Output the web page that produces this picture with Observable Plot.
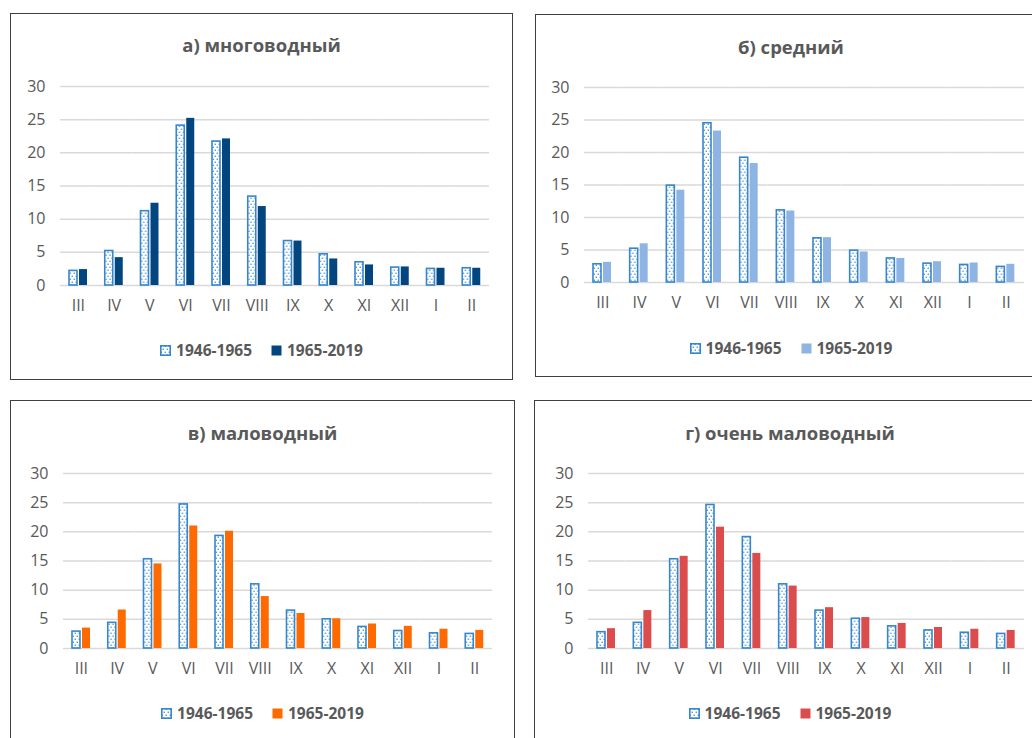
<!DOCTYPE html>
<html>
<head>
<meta charset="utf-8">
<script src="https://cdn.jsdelivr.net/npm/d3@7"></script>
<script src="https://cdn.jsdelivr.net/npm/@observablehq/plot@0.6"></script>
<style>
  html, body { margin: 0; padding: 0; background: #fff; }
  body { width: 1032px; height: 738px; overflow: hidden; position: relative; font-family: "Open Sans", sans-serif; }
  .panel { position: absolute; box-sizing: border-box; border: 1.5px solid #3f3f3f; background: #fff; overflow: visible; }
  .ptitle { position: absolute; left: 0; right: 0; text-align: center; font-weight: 700; font-size: 18.5px; line-height: 24px; color: #595959; }
  .plotwrap { position: absolute; }
  .legend { position: absolute; left: 0; right: 0; display: flex; justify-content: center; align-items: center; height: 20px; font-weight: 700; font-size: 15.5px; color: #595959; }
  .legend .item { display: flex; align-items: center; }
  .legend .item + .item { margin-left: 19px; }
  .legend svg { margin-right: 5px; display: block; }
</style>
</head>
<body>
<script>
// ---------- DATA ----------
const months = ["III", "IV", "V", "VI", "VII", "VIII", "IX", "X", "XI", "XII", "I", "II"];
const seriesNames = ["1946-1965", "1965-2019"];
const yTicks = [0, 5, 10, 15, 20, 25, 30];

const titles = ["а) многоводный", "б) средний", "в) маловодный", "г) очень маловодный"];

const highEarly = [2.2, 5.2, 11.2, 24.1, 21.7, 13.4, 6.7, 4.7, 3.5, 2.7, 2.5, 2.6];
const highLate  = [2.4, 4.2, 12.4, 25.2, 22.1, 11.9, 6.7, 4.0, 3.1, 2.8, 2.6, 2.6];

const midEarly  = [2.8, 5.2, 14.9, 24.5, 19.2, 11.1, 6.8, 4.9, 3.7, 2.9, 2.7, 2.4];
const midLate   = [3.1, 5.95, 14.2, 23.3, 18.3, 11.0, 6.9, 4.7, 3.7, 3.2, 3.0, 2.8];

const lowEarly  = [2.9, 4.4, 15.3, 24.7, 19.3, 11.0, 6.5, 5.0, 3.7, 3.0, 2.6, 2.5];
const lowLate   = [3.5, 6.6, 14.5, 21.0, 20.1, 8.9, 6.0, 5.1, 4.2, 3.8, 3.3, 3.1];

const vlowEarly = [2.8, 4.4, 15.3, 24.6, 19.1, 11.0, 6.5, 5.1, 3.8, 3.1, 2.7, 2.5];
const vlowLate  = [3.4, 6.5, 15.8, 20.8, 16.3, 10.7, 7.0, 5.3, 4.3, 3.6, 3.3, 3.1];

const earlySeries = [highEarly, midEarly, lowEarly, vlowEarly];
const lateSeries = [highLate, midLate, lowLate, vlowLate];

// ---------- STYLE / LAYOUT ----------
const lateColors = ["#03467f", "#8db4e2", "#ff6a00", "#db4d4d"];
const patternBlue = "#3586cf";
const textGray = "#595959";

// page coordinates of each panel
const layout = [
  { left: 10,  top: 13,  width: 503, height: 367, gx0: 59,  gx1: 488,  gy30: 85,  gy0: 284, titleY: 44,  legendY: 349 },
  { left: 535, top: 14,  width: 512, height: 363, gx0: 583, gx1: 1023, gy30: 86,  gy0: 281, titleY: 46,  legendY: 347 },
  { left: 10,  top: 400, width: 505, height: 360, gx0: 62,  gx1: 491,  gy30: 472, gy0: 647, titleY: 432, legendY: 712 },
  { left: 534, top: 400, width: 512, height: 360, gx0: 587, gx1: 1023, gy30: 472, gy0: 647, titleY: 432, legendY: 712 }
];

function patternDef(id) {
  return `<defs><pattern id="${id}" width="4" height="6" patternUnits="userSpaceOnUse">
    <rect width="4" height="6" fill="#ffffff"/>
    <rect x="0.6" y="0.6" width="1.3" height="1.3" fill="${patternBlue}"/>
    <rect x="2.6" y="3.6" width="1.3" height="1.3" fill="${patternBlue}"/>
  </pattern></defs>`;
}

titles.forEach((title, k) => {
  const L = layout[k];
  const panel = document.createElement("div");
  panel.className = "panel";
  Object.assign(panel.style, { left: L.left + "px", top: L.top + "px", width: L.width + "px", height: L.height + "px" });
  document.body.appendChild(panel);

  const t = document.createElement("div");
  t.className = "ptitle";
  t.style.top = (L.titleY - L.top - 12) + "px";
  t.textContent = title;
  panel.appendChild(t);

  const data = months.flatMap((m, i) => [
    { month: m, series: seriesNames[0], value: earlySeries[k][i] },
    { month: m, series: seriesNames[1], value: lateSeries[k][i] }
  ]);

  const ml = 45, mr = 10, mt = 15, mb = 40;
  const pid = "dots" + k;
  const chart = Plot.plot({
    width: L.gx1 - L.gx0 + ml + mr,
    height: L.gy0 - L.gy30 + mt + mb,
    marginLeft: ml, marginRight: mr, marginTop: mt, marginBottom: mb,
    style: { fontFamily: "Open Sans, sans-serif", fontSize: "16px", color: textGray, background: "transparent", overflow: "visible" },
    fx: { domain: months, padding: 0, round: false, label: null },
    x: { domain: seriesNames, axis: null, paddingInner: 0.16, paddingOuter: 0.86 },
    y: { domain: [0, 30], label: null },
    marks: [
      Plot.gridY(yTicks, { stroke: "#d9d9d9", strokeOpacity: 1, strokeWidth: 1.5 }),
      Plot.axisY(yTicks, { tickSize: 0, tickPadding: 15, fill: textGray, label: null, fontSize: 16 }),
      Plot.axisFx({ anchor: "bottom", tickSize: 0, tickPadding: 14, fill: textGray, label: null, fontSize: 16 }),
      Plot.barY(data.filter(d => d.series === seriesNames[0]), {
        fx: "month", x: "series", y: "value",
        fill: `url(#${pid})`, stroke: patternBlue, strokeWidth: 1.6
      }),
      Plot.barY(data.filter(d => d.series === seriesNames[1]), {
        fx: "month", x: "series", y: "value", fill: lateColors[k]
      })
    ]
  });
  chart.insertAdjacentHTML("afterbegin", patternDef(pid));

  const wrap = document.createElement("div");
  wrap.className = "plotwrap";
  wrap.style.left = (L.gx0 - ml - L.left) + "px";
  wrap.style.top = (L.gy30 - mt - L.top) + "px";
  wrap.appendChild(chart);
  panel.appendChild(wrap);

  const lg = document.createElement("div");
  lg.className = "legend";
  lg.style.top = (L.legendY - L.top - 10) + "px";
  lg.innerHTML =
    `<div class="item"><svg width="11" height="11"><rect x="0.8" y="0.8" width="9.4" height="9.4" fill="url(#${pid})" stroke="${patternBlue}" stroke-width="1.6"/></svg><span>${seriesNames[0]}</span></div>` +
    `<div class="item"><svg width="11" height="11"><rect x="0.5" y="0.5" width="10" height="10" fill="${lateColors[k]}"/></svg><span>${seriesNames[1]}</span></div>`;
  panel.appendChild(lg);
});
</script>
</body>
</html>
